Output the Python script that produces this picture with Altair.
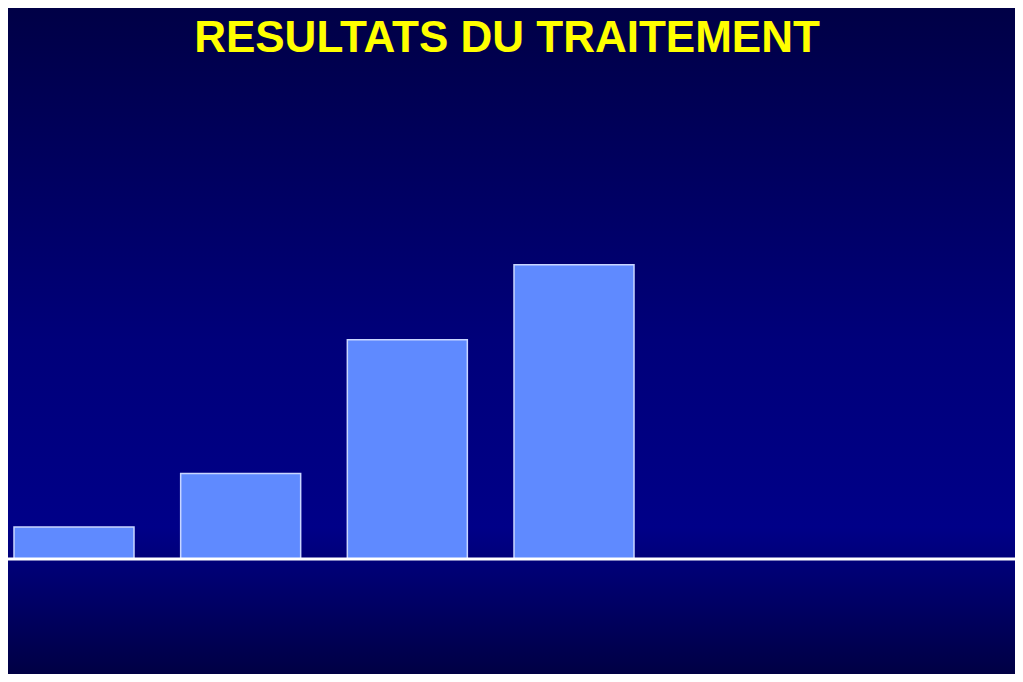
import altair as alt
import pandas as pd

treatments = ["IFN 6 m.", "IFN 12 m.", "IFN + Riba", "PEG IFN + Riba"]
years = ["1989", "1994", "1998", "2001"]
responses = [6, 16, 41, 55]
value_labels = ["6%", "16%", "41%", "55%"]
title_lines = ["RESULTATS DU TRAITEMENT", "(réponse virologique prolongée)"]

df = pd.DataFrame({"treatment": treatments, "year": years, "response": responses, "label": value_labels})

W, H = 1007, 551
PAD_B = 115
FONT = "Liberation Sans"
YELLOW = "#ffff00"

xs = alt.X("treatment:N", sort=treatments, axis=None,
           scale=alt.Scale(paddingInner=0.28, paddingOuter=0, range=[6, 626]))
ys = alt.Y("response:Q", axis=None, scale=alt.Scale(domain=[0, 103], nice=False, zero=True))

one = pd.DataFrame({"a": [0]})
bg = alt.Chart(one).mark_rect(
    color=alt.LinearGradient(
        gradient="linear", x1=0, x2=0, y1=0, y2=1,
        stops=[alt.GradientStop(color="#000046", offset=0),
               alt.GradientStop(color="#00007a", offset=0.5),
               alt.GradientStop(color="#000088", offset=0.78),
               alt.GradientStop(color="#000044", offset=1)],
    )
).encode(x=alt.value(0), x2=alt.value(W), y=alt.value(0), y2=alt.value(H + PAD_B))

title1 = alt.Chart(one).mark_text(color=YELLOW, fontSize=44, fontWeight="bold", font=FONT,
                                  baseline="alphabetic", align="center"
                                  ).encode(x=alt.value(499), y=alt.value(44), text=alt.value(title_lines[0]))

axis_line = alt.Chart(one).mark_rule(color="white", strokeWidth=3).encode(
    y=alt.datum(0), x=alt.value(0), x2=alt.value(1010))

base = alt.Chart(df)
bars = base.mark_bar(color="#5f8aff", stroke="#c9d6ff", strokeWidth=1.5).encode(x=xs, y=ys)

chart = alt.layer(bg, title1, bars, axis_line).properties(
    width=W, height=H,
    padding={"left": 0, "top": 0, "right": 0, "bottom": PAD_B},
    autosize=alt.AutoSizeParams(type="none"),
    background="#000046",
).configure_view(stroke=None).configure(font=FONT)

chart.save("out.html", embed_options={"renderer": "svg", "actions": False})
